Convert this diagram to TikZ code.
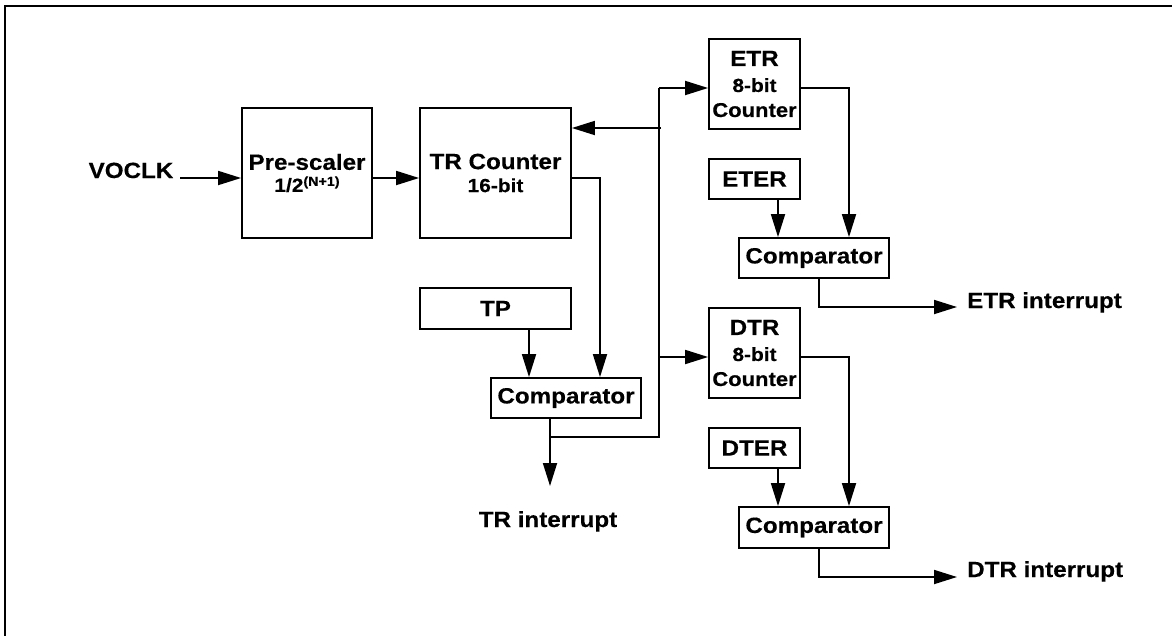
\documentclass[tikz,border=0pt]{standalone}
\usepackage{fontspec}
\newfontfamily\dfont{Liberation Sans}[FakeStretch=1.1,FakeBold=0.4]
\usetikzlibrary{arrows.meta}
\newcommand\fbig{\fontsize{22}{25}\selectfont}
\newcommand\fmid{\fontsize{20}{23}\selectfont}
\newcommand\fsmall{\fontsize{19}{23}\selectfont}
\begin{document}
\begin{tikzpicture}[x=1pt,y=-1pt,
  blk/.style={draw, rectangle, line width=1.8pt, inner sep=0pt, align=center,
              font=\dfont\bfseries\fbig},
  lbl/.style={inner sep=0pt, font=\dfont\bfseries\fbig},
  wire/.style={line width=1.8pt},
  arr/.style={line width=1.8pt, -{Triangle[length=23pt,width=14pt]}},
  frame/.style={line width=2.6pt}]
\useasboundingbox (0,0) rectangle (1172,635);
% frame (top and left edges)
\coordinate (fbl) at (5,640);
\coordinate (ftl) at (5,6);
\coordinate (ftr) at (1180,6);
\draw[frame] (fbl) -- (ftl) -- (ftr);

% boxes
\node[blk, minimum width=130pt, minimum height=130pt] (pre) at (307,173)
  {Pre-scaler\\[-3pt]{\fsmall 1/2\raisebox{6pt}{\fontsize{13}{13}\selectfont(N+1)}}};
\node[blk, minimum width=151pt, minimum height=130pt] (trc) at (495.5,173)
  {TR Counter\\[-2pt]{\fsmall 16-bit}};
\node[blk, minimum width=91pt, minimum height=90pt] (etr) at (754.5,84)
  {ETR\\[1pt]{\fsmall 8-bit}\\[0pt]{\fmid Counter}};
\node[blk, minimum width=91pt, minimum height=40pt] (eter) at (754.5,179) {ETER};
\node[blk, minimum width=150pt, minimum height=40pt] (ecmp) at (814,258) {Comparator};
\node[blk, minimum width=151pt, minimum height=41pt] (tp) at (495.5,308.5) {TP};
\node[blk, minimum width=150pt, minimum height=40pt] (tcmp) at (566,398) {Comparator};
\node[blk, minimum width=91pt, minimum height=90pt] (dtr) at (754.5,353)
  {DTR\\[1pt]{\fsmall 8-bit}\\[0pt]{\fmid Counter}};
\node[blk, minimum width=91pt, minimum height=40pt] (dter) at (754.5,448) {DTER};
\node[blk, minimum width=150pt, minimum height=41pt] (dcmp) at (814,527.5) {Comparator};

% labels
\node[lbl, anchor=base] (voclk) at (131,178) {VOCLK};
\node[lbl, anchor=base] (trint) at (548,527) {TR interrupt};
\node[lbl, anchor=base west] (etrint) at (967,308) {ETR interrupt};
\node[lbl, anchor=base west] (dtrint) at (967,577) {DTR interrupt};

% coordinates for bends and free ends
\coordinate (vin) at (180,178);
\coordinate (busT) at (659,88);
\coordinate (busR) at (661,128);
\coordinate (busD) at (659,357);
\coordinate (busB) at (659,437);
\coordinate (tcmpJ) at (550,437);
\coordinate (trOut) at (550,486);
\coordinate (eOut) at (957,307);
\coordinate (dOut) at (957,577);

% connectors
\draw[arr] (vin) -- (pre.west |- vin);
\draw[arr] (pre.east |- vin) -- (trc.west |- vin);
\draw[arr] (trc.east |- vin) -| (600,0 |- tcmp.north);
\draw[arr] (busR) -- (trc.east |- busR);
\draw[wire] (busT) -- (busB) -- (tcmpJ);
\draw[arr] (busT) -- (etr.west |- busT);
\draw[arr] (busD) -- (dtr.west |- busD);
\draw[arr] (tp.south -| 529,0) -- (tcmp.north -| 529,0);
\draw[arr] (tcmp.south -| tcmpJ) -- (trOut);
% ETR path
\draw[arr] (etr.east |- busT) -| (ecmp.north -| 849,0);
\draw[arr] (eter.south -| 778,0) -- (ecmp.north -| 778,0);
\draw[arr] (ecmp.south -| 819,0) |- (eOut);
% DTR path
\draw[arr] (dtr.east |- busD) -| (dcmp.north -| 849,0);
\draw[arr] (dter.south -| 778,0) -- (dcmp.north -| 778,0);
\draw[arr] (dcmp.south -| 819,0) |- (dOut);
\end{tikzpicture}
\end{document}
